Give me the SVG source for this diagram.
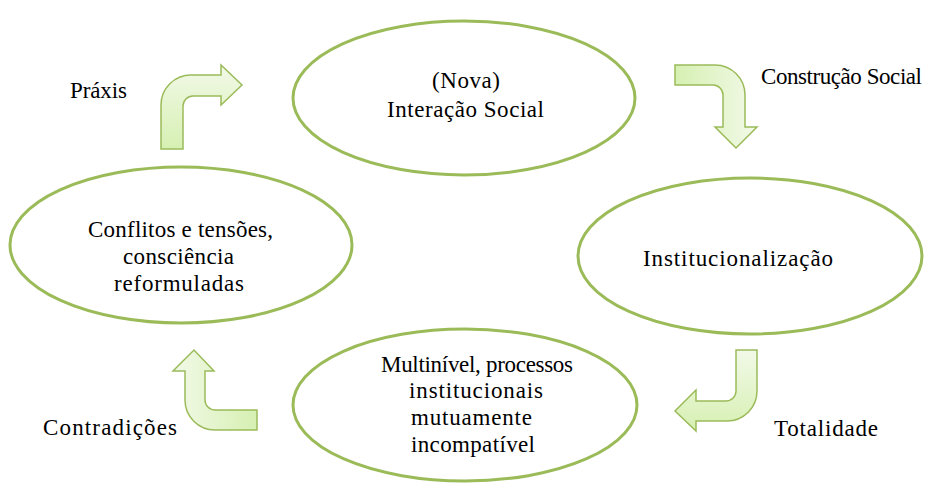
<svg xmlns="http://www.w3.org/2000/svg" width="939" height="484" viewBox="0 0 939 484">
  <style>
    .node ellipse { fill: #ffffff; stroke: #9bbb59; stroke-width: 3; }
    .lbl { font-family: "Liberation Serif", "Times New Roman", serif; font-size: 23px; fill: #000000; }
    .arrow { stroke: #9bbb59; stroke-width: 1.5; stroke-linejoin: miter; }
  </style>
  <defs>
    <linearGradient id="gV" x1="0" y1="1" x2="0" y2="0">
      <stop offset="0" stop-color="#d6f0b2"/>
      <stop offset="1" stop-color="#f2f9e8"/>
    </linearGradient>
    <linearGradient id="gH" x1="0" y1="0" x2="1" y2="0">
      <stop offset="0" stop-color="#d6f0b2"/>
      <stop offset="1" stop-color="#f2f9e8"/>
    </linearGradient>
    <linearGradient id="gH2" x1="1" y1="0" x2="0" y2="0">
      <stop offset="0" stop-color="#d6f0b2"/>
      <stop offset="1" stop-color="#f2f9e8"/>
    </linearGradient>
  </defs>

  <!-- cycle nodes -->
  <g id="node-interacao" class="node">
    <ellipse cx="464" cy="98" rx="171" ry="77"/>
    <text class="lbl" x="432" y="88" textLength="68" lengthAdjust="spacing">(Nova)</text>
    <text class="lbl" x="387" y="117" textLength="157" lengthAdjust="spacing">Interação Social</text>
  </g>
  <g id="node-institucionalizacao" class="node">
    <ellipse cx="750" cy="256" rx="172" ry="78"/>
    <text class="lbl" x="643" y="266" textLength="190" lengthAdjust="spacing">Institucionalização</text>
  </g>
  <g id="node-multinivel" class="node">
    <ellipse cx="465" cy="405" rx="172" ry="76"/>
    <text class="lbl" x="381" y="372" textLength="192" lengthAdjust="spacing">Multinível, processos</text>
    <text class="lbl" x="409" y="398" textLength="134" lengthAdjust="spacing">institucionais</text>
    <text class="lbl" x="411" y="425" textLength="121" lengthAdjust="spacing">mutuamente</text>
    <text class="lbl" x="411" y="452" textLength="124" lengthAdjust="spacing">incompatível</text>
  </g>
  <g id="node-conflitos" class="node">
    <ellipse cx="181" cy="245" rx="171" ry="78"/>
    <text class="lbl" x="88" y="237" textLength="185" lengthAdjust="spacing">Conflitos e tensões,</text>
    <text class="lbl" x="123" y="264" textLength="111" lengthAdjust="spacing">consciência</text>
    <text class="lbl" x="114" y="291" textLength="130" lengthAdjust="spacing">reformuladas</text>
  </g>

  <!-- bent connector arrows with their labels -->
  <g id="connectors">
    <g id="arrow-praxis">
      <path class="arrow" fill="url(#gV)" d="M161,149 L161,105 A30,30 0 0 1 191,75 L221,75 L221,65 L242,85 L221,105 L221,96 L193,96 A10,10 0 0 0 183,106 L183,149 Z"/>
      <text class="lbl" x="70" y="98" textLength="57" lengthAdjust="spacing">Práxis</text>
    </g>
    <g id="arrow-construcao">
      <path class="arrow" fill="url(#gH)" d="M675,65 L715,65 A30,30 0 0 1 745,95 L745,127 L757,127 L736,148 L715,127 L723,127 L723,95 A10,10 0 0 0 713,85 L675,85 Z"/>
      <text class="lbl" x="761" y="84" textLength="161" lengthAdjust="spacing">Construção Social</text>
    </g>
    <g id="arrow-totalidade">
      <path class="arrow" fill="url(#gV)" d="M736,350 L757,350 L757,391 A30,30 0 0 1 727,421 L696,421 L696,431 L675,411 L696,390 L696,401 L726,401 A10,10 0 0 0 736,391 Z"/>
      <text class="lbl" x="774" y="436" textLength="104" lengthAdjust="spacing">Totalidade</text>
    </g>
    <g id="arrow-contradicoes">
      <path class="arrow" fill="url(#gH2)" d="M257,410 L215,410 A10,10 0 0 1 205,400 L205,371 L214,371 L194,350 L173,371 L185,371 L185,400 A30,30 0 0 0 215,430 L257,430 Z"/>
      <text class="lbl" x="43" y="435" textLength="134" lengthAdjust="spacing">Contradições</text>
    </g>
  </g>
</svg>
